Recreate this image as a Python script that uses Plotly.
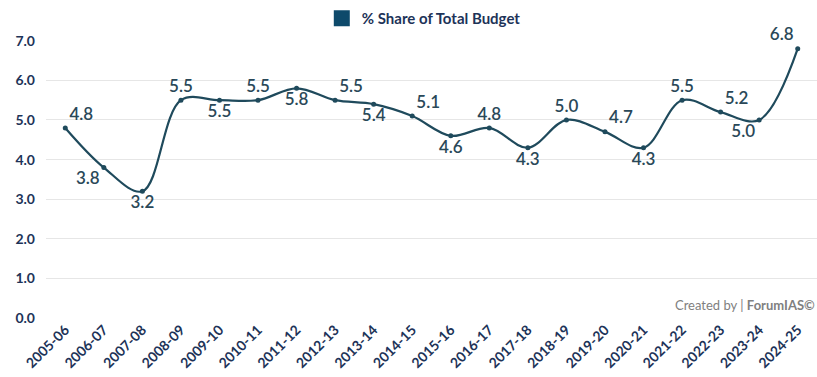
import plotly.graph_objects as go

years = ["2005-06", "2006-07", "2007-08", "2008-09", "2009-10", "2010-11", "2011-12",
         "2012-13", "2013-14", "2014-15", "2015-16", "2016-17", "2017-18", "2018-19",
         "2019-20", "2020-21", "2021-22", "2022-23", "2023-24", "2024-25"]
share = [4.8, 3.8, 3.2, 5.5, 5.5, 5.5, 5.8, 5.5, 5.4, 5.1, 4.6, 4.8, 4.3, 5.0,
         4.7, 4.3, 5.5, 5.2, 5.0, 6.8]
label_pos = ["top right", "bottom left", "bottom center", "top center", "bottom center",
             "top center", "bottom center", "top right", "bottom center", "top right",
             "bottom center", "top center", "bottom center", "top center", "top right",
             "bottom center", "top center", "top right", "bottom left", "top left"]
y_ticks = [0, 1, 2, 3, 4, 5, 6, 7]

LINE = "#1f4a5c"
NAVY = "#1d3358"

fig = go.Figure()
fig.add_trace(go.Scatter(
    x=years, y=share, mode="lines+markers+text",
    line=dict(color=LINE, width=2.2, shape="spline", smoothing=1.0),
    marker=dict(color=LINE, size=5),
    text=[f"{v:.1f}" for v in share], textposition=label_pos,
    textfont=dict(family="Lato", size=17, color="#2a4858", weight=600),
    showlegend=False, cliponaxis=False,
))
fig.add_trace(go.Scatter(
    x=[None], y=[None], mode="markers", name="% Share of Total Budget",
    marker=dict(symbol="square", size=17, color="#0e4a6b"),
))

fig.update_layout(
    width=817, height=377,
    margin=dict(l=46, r=0, t=40, b=59, autoexpand=False),
    paper_bgcolor="white", plot_bgcolor="white",
    font=dict(family="Lato", color=NAVY),
    legend=dict(orientation="h", x=0.49, xanchor="center", y=0.995, yanchor="top",
                yref="container", font=dict(family="Lato", size=15, color=NAVY, weight="bold"),
                itemwidth=30),
    xaxis=dict(type="category", range=[-0.5, 19.5], tickangle=-45, automargin=False,
               tickfont=dict(family="Lato", size=14, color=NAVY, weight="bold"),
               showgrid=False, zeroline=False, showline=False, ticks=""),
    yaxis=dict(range=[0, 7.02], tickvals=y_ticks, ticktext=[f"{v:.1f}" for v in y_ticks],
               tickfont=dict(family="Lato", size=14, color=NAVY, weight="bold"),
               showgrid=True, gridcolor="#e6e6e6", gridwidth=1.3, zeroline=False,
               ticklabelstandoff=10, automargin=False),
    annotations=[dict(
        text="Created by | <b>ForumIAS©</b>", xref="paper", yref="paper",
        x=1.0, y=0.045, xanchor="right", yanchor="middle", showarrow=False,
        font=dict(family="Lato", size=13, color="#808080"),
    )],
)

fig.write_html("out.html")
